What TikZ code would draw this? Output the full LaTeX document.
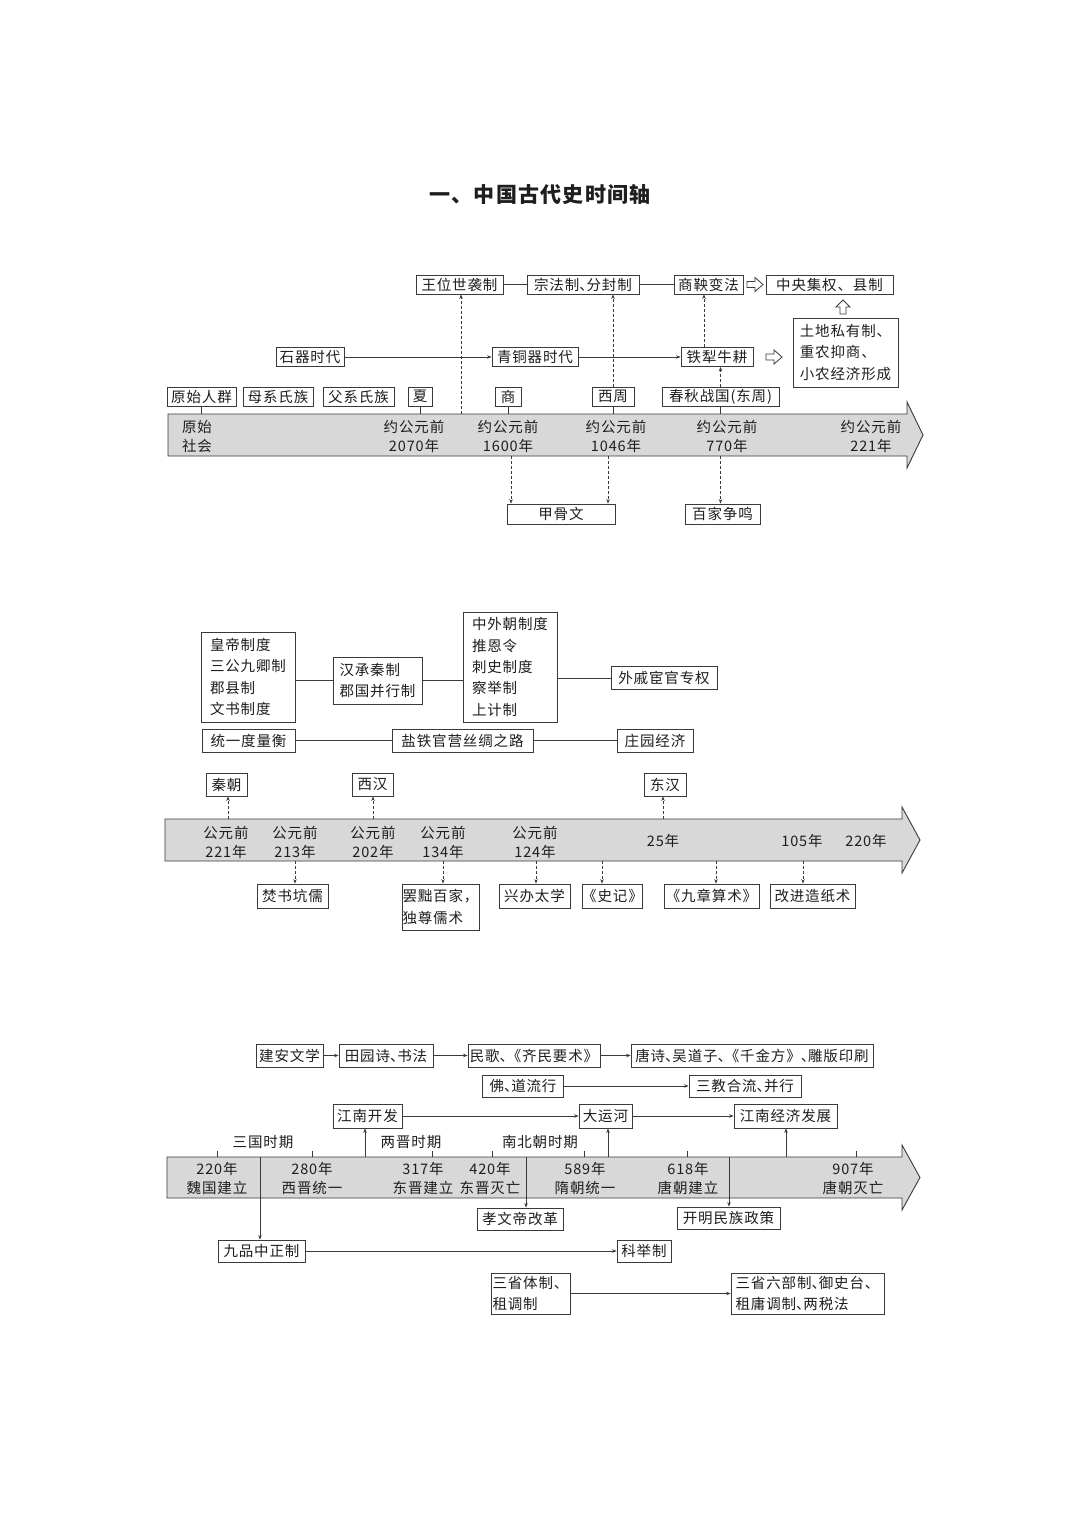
\documentclass[tikz,border=0pt]{standalone}
\usepackage{fontspec}
\setmainfont{Noto Sans CJK SC}[LetterSpace=6]
\usetikzlibrary{arrows.meta,calc}
\definecolor{barfill}{HTML}{D8D8D8}
\definecolor{lncol}{HTML}{3A3A3A}
\definecolor{txtcol}{HTML}{1E1E1E}
\newcommand\myfs{\fontsize{14.5}{21.3}\selectfont}
\newcommand\mybfs{\fontsize{14.5}{19}\selectfont}
\newcommand\dun{\makebox[0.5em][l]{、}}
\begin{document}
\begin{tikzpicture}[x=1pt,y=-1pt,
  bx/.style={draw=lncol, line width=0.8pt, inner sep=0pt, text=txtcol, font=\myfs, align=left},
  bt/.style={inner sep=0pt, text=txtcol, font=\mybfs, align=center},
  ln/.style={draw=lncol, line width=0.8pt},
  arr/.style={ln, -{Stealth[length=4.5pt,width=3.5pt]}},
  darr/.style={arr, dash pattern=on 3pt off 2pt},
  hol/.style={draw=lncol, line width=0.8pt, fill=white},
  barst/.style={fill=barfill, draw=lncol, line width=0.9pt}]
\useasboundingbox (0,0) rectangle (1080,1527);
\fill[white] (0,0) rectangle (1080,1527);

% title
\node[text=txtcol, font=\fontsize{21}{25}\selectfont\bfseries] (title) at (540,195) {一、中国古代史时间轴};

% ================= Section 1 =================
\path[barst] (168,414) -- (907,414) -- (907,402) -- (923,435) -- (907,468) -- (907,456) -- (168,456) -- cycle;
\coordinate (b1t) at (0,414);
\coordinate (b1b) at (0,456);

\node[bt] (s1a) at (197,436) {原始\\社会};
\node[bt] (s1b) at (414,436) {约公元前\\2070年};
\node[bt] (s1c) at (508,436) {约公元前\\1600年};
\node[bt] (s1d) at (616,436) {约公元前\\1046年};
\node[bt] (s1e) at (727,436) {约公元前\\770年};
\node[bt] (s1f) at (871,436) {约公元前\\221年};

\node[bx, minimum width=87pt, minimum height=19pt] (wwsx) at (459.5,284.5) {王位世袭制};
\node[bx, minimum width=112pt, minimum height=19pt] (zfz) at (583,284.5) {宗法制\dun 分封制};
\node[bx, minimum width=69pt, minimum height=19pt] (sy) at (708.5,284.5) {商鞅变法};
\node[bx, minimum width=127pt, minimum height=19pt] (zyjq) at (829.5,284.5) {中央集权、县制};

\node[bx, minimum width=68pt, minimum height=19pt] (sqsd) at (310,357) {石器时代};
\node[bx, minimum width=86pt, minimum height=19pt] (qtq) at (535,357) {青铜器时代};
\node[bx, minimum width=72pt, minimum height=19pt] (tl) at (717,357) {铁犁牛耕};
\node[bx, minimum width=105pt, minimum height=69pt] (tdsy) at (845.5,352.5) {土地私有制、\\重农抑商、\\小农经济形成};

\node[bx, minimum width=69pt, minimum height=19pt] (ysrq) at (201.5,396.5) {原始人群};
\node[bx, minimum width=70pt, minimum height=19pt] (mxsz) at (278,396.5) {母系氏族};
\node[bx, minimum width=71pt, minimum height=19pt] (fxsz) at (358.5,396.5) {父系氏族};
\node[bx, minimum width=24pt, minimum height=19pt] (xia) at (420,396.5) {夏};
\node[bx, minimum width=26pt, minimum height=19pt] (shang) at (508,396.5) {商};
\node[bx, minimum width=42pt, minimum height=19pt] (xz) at (613,396.5) {西周};
\node[bx, minimum width=117pt, minimum height=19pt] (cq) at (720.5,396.5) {春秋战国(东周)};

\node[bx, minimum width=108pt, minimum height=20pt] (jgw) at (561,514) {甲骨文};
\node[bx, minimum width=75pt, minimum height=20pt] (bjzm) at (722.5,514) {百家争鸣};

\draw[ln] (wwsx.east) -- (zfz.west);
\draw[ln] (zfz.east) -- (sy.west);
\draw[arr] (sqsd.east) -- (qtq.west);
\draw[arr] (qtq.east) -- (tl.west);

\draw[ln] (ysrq.south) -- (ysrq.south |- b1t);
\draw[ln] (xia.south) -- (xia.south |- b1t);
\draw[ln] (shang.south) -- (shang.south |- b1t);
\draw[ln] (xz.south) -- (xz.south |- b1t);
\draw[ln] (cq.south) -- (cq.south |- b1t);

\coordinate (d1) at (461,0);
\draw[darr] (d1 |- b1t) -- (d1 |- wwsx.south);
\draw[darr] (xz.north) -- (xz.north |- zfz.south);
\draw[darr] (cq.north) -- (cq.north |- tl.south);
\coordinate (d2) at (704,0);
\draw[darr] (d2 |- tl.north) -- (d2 |- sy.south);
\coordinate (d3) at (511,0);
\draw[darr] (d3 |- b1b) -- (d3 |- jgw.north);
\coordinate (d4) at (608,0);
\draw[darr] (d4 |- b1b) -- (d4 |- jgw.north);
\draw[darr] (cq.south |- b1b) -- (cq.south |- bjzm.north);

% hollow arrows
\coordinate (h1) at (747,284.5);
\draw[hol] (h1) ++(0,-3) -- ++(8,0) -- ++(0,-4) -- ++(8,7) -- ++(-8,7) -- ++(0,-4) -- ++(-8,0) -- cycle;
\coordinate (h2) at (766,357);
\draw[hol] (h2) ++(0,-3) -- ++(8,0) -- ++(0,-4) -- ++(8,7) -- ++(-8,7) -- ++(0,-4) -- ++(-8,0) -- cycle;
\coordinate (h3) at (843,314);
\draw[hol] (h3) ++(-3,0) -- ++(0,-7) -- ++(-4,0) -- ++(7,-7) -- ++(7,7) -- ++(-4,0) -- ++(0,7) -- cycle;

% ================= Section 2 =================
\path[barst] (165,819) -- (902,819) -- (902,807) -- (920,840) -- (902,873) -- (902,861) -- (165,861) -- cycle;
\coordinate (b2t) at (0,819);
\coordinate (b2b) at (0,861);

\node[bt] (s2a) at (226,842) {公元前\\221年};
\node[bt] (s2b) at (295,842) {公元前\\213年};
\node[bt] (s2c) at (373,842) {公元前\\202年};
\node[bt] (s2d) at (443,842) {公元前\\134年};
\node[bt] (s2e) at (535,842) {公元前\\124年};
\node[bt] (s2f) at (663,841) {25年};
\node[bt] (s2g) at (802,841) {105年};
\node[bt] (s2h) at (866,841) {220年};

\node[bx, minimum width=94pt, minimum height=90pt] (hd) at (248,677) {皇帝制度\\三公九卿制\\郡县制\\文书制度};
\node[bx, minimum width=89pt, minimum height=47pt] (hcqz) at (377.5,680.5) {汉承秦制\\郡国并行制};
\node[bx, minimum width=94pt, minimum height=110pt] (zwc) at (510,667) {中外朝制度\\推恩令\\刺史制度\\察举制\\上计制};
\node[bx, minimum width=106pt, minimum height=23pt] (wqhg) at (664,678) {外戚宦官专权};

\node[bx, minimum width=93pt, minimum height=23pt] (tydlh) at (248.5,740.5) {统一度量衡};
\node[bx, minimum width=141pt, minimum height=23pt] (ytgy) at (462.5,740.5) {盐铁官营丝绸之路};
\node[bx, minimum width=76pt, minimum height=23pt] (zyjj) at (655,740.5) {庄园经济};

\node[bx, minimum width=41pt, minimum height=23pt] (qc) at (226.5,784.5) {秦朝};
\node[bx, minimum width=41pt, minimum height=23pt] (xh) at (372.5,784.5) {西汉};
\node[bx, minimum width=42pt, minimum height=23pt] (dh) at (665,784.5) {东汉};

\node[bx, minimum width=71pt, minimum height=24pt] (fskr) at (292.5,896) {焚书坑儒};
\node[bx, minimum width=77pt, minimum height=46pt] (bchj) at (440.5,907) {罢黜百家，\\独尊儒术};
\node[bx, minimum width=71pt, minimum height=24pt] (xbtx) at (534.5,896) {兴办太学};
\node[bx, minimum width=59pt, minimum height=24pt] (sj) at (612.5,896) {《史记》};
\node[bx, minimum width=95pt, minimum height=24pt] (jzss) at (711.5,896) {《九章算术》};
\node[bx, minimum width=85pt, minimum height=24pt] (gjzzs) at (812.5,896) {改进造纸术};

\draw[ln] (hcqz.west -| hd.east) -- (hcqz.west);
\draw[ln] (hcqz.east) -- (hcqz.east -| zwc.west);
\draw[ln] (wqhg.west -| zwc.east) -- (wqhg.west);
\draw[ln] (tydlh.east) -- (ytgy.west);
\draw[ln] (ytgy.east) -- (zyjj.west);

\coordinate (q1) at (228,0);
\draw[darr] (q1 |- b2t) -- (q1 |- qc.south);
\coordinate (q2) at (373,0);
\draw[darr] (q2 |- b2t) -- (q2 |- xh.south);
\coordinate (q3) at (663,0);
\draw[darr] (q3 |- b2t) -- (q3 |- dh.south);

\coordinate (e1) at (295,0);
\draw[darr] (e1 |- b2b) -- (e1 |- fskr.north);
\coordinate (e2) at (443,0);
\draw[darr] (e2 |- b2b) -- (e2 |- bchj.north);
\coordinate (e3) at (536,0);
\draw[darr] (e3 |- b2b) -- (e3 |- xbtx.north);
\coordinate (e4) at (602,0);
\draw[darr] (e4 |- b2b) -- (e4 |- sj.north);
\coordinate (e5) at (716,0);
\draw[darr] (e5 |- b2b) -- (e5 |- jzss.north);
\coordinate (e6) at (803,0);
\draw[darr] (e6 |- b2b) -- (e6 |- gjzzs.north);

% ================= Section 3 =================
\path[barst] (167,1157) -- (902,1157) -- (902,1145) -- (920,1177.5) -- (902,1210) -- (902,1198) -- (167,1198) -- cycle;
\coordinate (b3t) at (0,1157);
\coordinate (b3b) at (0,1198);

\node[bt] (s3a) at (217,1178) {220年\\魏国建立};
\node[bt] (s3b) at (312,1178) {280年\\西晋统一};
\node[bt] (s3c) at (423,1178) {317年\\东晋建立};
\node[bt] (s3d) at (490,1178) {420年\\东晋灭亡};
\node[bt] (s3e) at (585,1178) {589年\\隋朝统一};
\node[bt] (s3f) at (688,1178) {618年\\唐朝建立};
\node[bt] (s3g) at (853,1178) {907年\\唐朝灭亡};

\node[bt] (p1) at (263,1142) {三国时期};
\node[bt] (p2) at (411,1142) {两晋时期};
\node[bt] (p3) at (540,1142) {南北朝时期};
\foreach \tx in {217,312,432,492,584,687,856} \draw[ln] (\tx,1151) -- (\tx,1157);

\node[bx, minimum width=67pt, minimum height=23pt] (jawx) at (289.5,1055.5) {建安文学};
\node[bx, minimum width=94pt, minimum height=23pt] (tys) at (386,1055.5) {田园诗\dun 书法};
\node[bx, minimum width=132pt, minimum height=23pt] (mg) at (534,1055.5) {民歌\dun《齐民要术》};
\node[bx, minimum width=242pt, minimum height=23pt] (ts) at (752,1055.5) {唐诗\dun 吴道子\dun《千金方》\dun 雕版印刷};

\node[bx, minimum width=81pt, minimum height=22pt] (fd) at (523,1086) {佛\dun 道流行};
\node[bx, minimum width=112pt, minimum height=22pt] (sjhl) at (745,1086) {三教合流\dun 并行};

\node[bx, minimum width=69pt, minimum height=24pt] (jnkf) at (367.5,1116) {江南开发};
\node[bx, minimum width=53pt, minimum height=24pt] (dyh) at (605.5,1116) {大运河};
\node[bx, minimum width=103pt, minimum height=24pt] (jnjj) at (785.5,1116) {江南经济发展};

\node[bx, minimum width=86pt, minimum height=22pt] (xwd) at (520,1219) {孝文帝改革};
\node[bx, minimum width=103pt, minimum height=22pt] (kmmz) at (728.5,1218) {开明民族政策};
\node[bx, minimum width=87pt, minimum height=22pt] (jpzz) at (261.5,1251) {九品中正制};
\node[bx, minimum width=54pt, minimum height=22pt] (kjz) at (644,1251) {科举制};
\node[bx, minimum width=79pt, minimum height=41pt] (sstz) at (530.5,1293.5) {三省体制、\\租调制};
\node[bx, minimum width=153pt, minimum height=41pt] (sslb) at (807.5,1293.5) {三省六部制\dun 御史台、\\租庸调制\dun 两税法};

\draw[arr] (jawx.east) -- (tys.west);
\draw[arr] (tys.east) -- (mg.west);
\draw[arr] (mg.east) -- (ts.west);
\draw[arr] (fd.east) -- (sjhl.west);
\draw[arr] (jnkf.east) -- (dyh.west);
\draw[arr] (dyh.east) -- (jnjj.west);

\coordinate (u1) at (365,0);
\draw[arr] (u1 |- b3t) -- (u1 |- jnkf.south);
\coordinate (u2) at (608,0);
\draw[arr] (u2 |- b3t) -- (u2 |- dyh.south);
\coordinate (u3) at (786,0);
\draw[arr] (u3 |- b3t) -- (u3 |- jnjj.south);

\coordinate (v1) at (260,0);
\draw[arr] (v1 |- b3t) -- (v1 |- jpzz.north);
\coordinate (v2) at (526,0);
\draw[arr] (v2 |- b3t) -- (v2 |- xwd.north);
\coordinate (v3) at (729,0);
\draw[arr] (v3 |- b3t) -- (v3 |- kmmz.north);

\draw[arr] (jpzz.east) -- (kjz.west);
\draw[arr] (sstz.east) -- (sstz.east -| sslb.west);
\end{tikzpicture}
\end{document}
